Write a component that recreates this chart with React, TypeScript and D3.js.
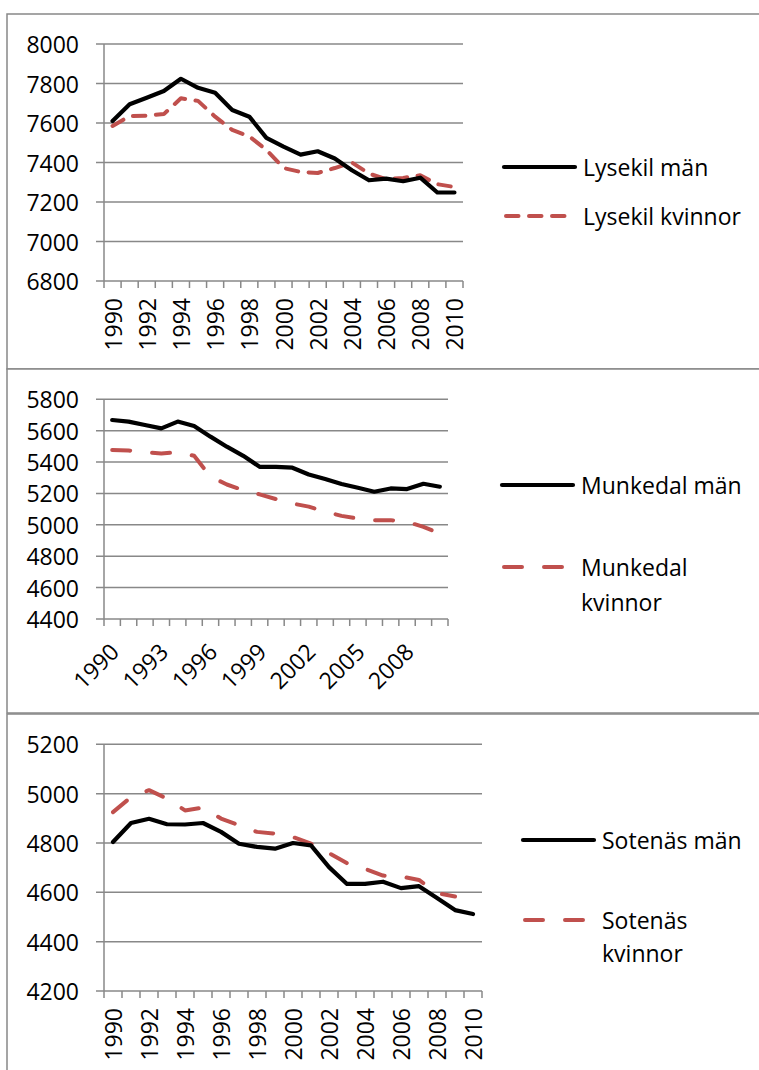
import React from "react";
import * as d3 from "d3";

const years = ["1990","1991","1992","1993","1994","1995","1996","1997","1998","1999","2000","2001","2002","2003","2004","2005","2006","2007","2008","2009","2010"];

const lysekilMan = [7610,7695,7728,7762,7824,7778,7753,7666,7632,7525,7480,7440,7457,7420,7361,7310,7318,7305,7323,7248,7248];
const lysekilKvinnor = [7585,7635,7637,7645,7725,7712,7632,7565,7532,7464,7372,7352,7347,7372,7400,7344,7315,7322,7335,7290,7276];

const munkedalMan = [5668,5658,5636,5615,5658,5630,5562,5498,5440,5370,5370,5364,5321,5292,5260,5236,5211,5232,5228,5262,5243];
const munkedalKvinnor = [5477,5474,5462,5455,5462,5440,5307,5257,5221,5194,5164,5136,5116,5084,5057,5040,5030,5030,5019,4987,4945];

const sotenasMan = [4804,4881,4898,4876,4875,4881,4845,4797,4784,4777,4800,4790,4702,4634,4634,4643,4617,4625,4577,4528,4512];
const sotenasKvinnor: (number | null)[] = [4925,4986,5014,4980,4932,4943,4899,4872,4845,4838,4824,4797,4759,4718,4695,4668,4664,4650,4597,4583,null];

const lysekilTicks = [6800,7000,7200,7400,7600,7800,8000];
const munkedalTicks = [4400,4600,4800,5000,5200,5400,5600,5800];
const sotenasTicks = [4200,4400,4600,4800,5000,5200];

const lysekilLegend = ["Lysekil män", "Lysekil kvinnor"];
const munkedalLegend = ["Munkedal män", "Munkedal", "kvinnor"];
const sotenasLegend = ["Sotenäs män", "Sotenäs", "kvinnor"];

const FONT = "'Open Sans', 'Noto Sans', sans-serif";
const FS = 23;
const GRAY = "#888888";
const RED = "#C0504D";

type PanelProps = {
  top: number; bottom: number;
  x0: number; x1: number; y0: number; y1: number;
  ticks: number[]; men: (number|null)[]; women: (number|null)[];
  every: number; rot: number; dash: string;
  legend: string[]; lg: { x: number; y1: number; y2: number; y3?: number; dashLen: number };
};

function Panel(p: PanelProps) {
  const x = d3.scaleBand<string>().domain(years).range([p.x0, p.x1]).padding(0);
  const y = d3.scaleLinear().domain([p.ticks[0], p.ticks[p.ticks.length - 1]]).range([p.y1, p.y0]);
  const cx = (i: number) => (x(years[i]) as number) + x.bandwidth() / 2;
  const line = d3.line<number | null>()
    .defined((d) => d !== null)
    .x((_, i) => cx(i))
    .y((d) => y(d as number));
  const boundaries = years.map((yr) => x(yr) as number).concat([p.x1]);
  const lx = p.lg.x;
  return (
    <g>
      <rect x={7} y={p.top} width={800} height={p.bottom - p.top} fill="white" stroke={GRAY} strokeWidth={1.5} />
      {p.ticks.map((t) => (
        <g key={t}>
          <line x1={p.x0 - 8} x2={p.x1} y1={y(t)} y2={y(t)} stroke={GRAY} strokeWidth={1.5} />
          <text x={p.x0 - 25} y={y(t)} textAnchor="end" dominantBaseline="central" fontSize={FS} fontFamily={FONT} fill="#000">{t}</text>
        </g>
      ))}
      <line x1={p.x0} x2={p.x0} y1={p.y0} y2={p.y1} stroke={GRAY} strokeWidth={1.5} />
      {boundaries.map((b, i) => (
        <line key={i} x1={b} x2={b} y1={p.y1} y2={p.y1 + 7} stroke={GRAY} strokeWidth={1.5} />
      ))}
      {years.map((yr, i) => i % p.every === 0 ? (
        p.rot === -90 ? (
          <text key={yr} transform={`translate(${cx(i)},${p.y1 + 17}) rotate(-90)`} textAnchor="end" dominantBaseline="central" fontSize={FS} fontFamily={FONT} fill="#000">{yr}</text>
        ) : (
          <text key={yr} transform={`translate(${cx(i) + 2},${p.y1 + 28}) rotate(-45)`} textAnchor="end" dominantBaseline="central" fontSize={FS} fontFamily={FONT} fill="#000">{yr}</text>
        )
      ) : null)}
      <path d={line(p.women) || ""} fill="none" stroke={RED} strokeWidth={4} strokeDasharray={p.dash} strokeLinecap="round" strokeLinejoin="round" />
      <path d={line(p.men) || ""} fill="none" stroke="#000" strokeWidth={4.2} strokeLinecap="round" strokeLinejoin="round" />
      <line x1={lx} x2={lx + 71} y1={p.lg.y1} y2={p.lg.y1} stroke="#000" strokeWidth={4.2} strokeLinecap="round" />
      <text x={lx + 79} y={p.lg.y1} dominantBaseline="central" fontSize={FS} fontFamily={FONT} fill="#000">{p.legend[0]}</text>
      <line x1={lx + 2} x2={lx + 2 + p.lg.dashLen} y1={p.lg.y2} y2={p.lg.y2} stroke={RED} strokeWidth={4} strokeDasharray={p.dash} strokeLinecap="round" />
      <text x={lx + 79} y={p.lg.y2} dominantBaseline="central" fontSize={FS} fontFamily={FONT} fill="#000">{p.legend[1]}</text>
      {p.legend[2] && p.lg.y3 !== undefined ? (
        <text x={lx + 79} y={p.lg.y3} dominantBaseline="central" fontSize={FS} fontFamily={FONT} fill="#000">{p.legend[2]}</text>
      ) : null}
    </g>
  );
}

export default function App() {
  return (
    <svg width={759} height={1070} style={{ position: "absolute", left: 0, top: 0, background: "white" }}>
      <Panel top={14} bottom={369} x0={104} x1={463} y0={44} y1={281} ticks={lysekilTicks}
        men={lysekilMan} women={lysekilKvinnor} every={2} rot={-90} dash="12.5 10.5"
        legend={lysekilLegend} lg={{ x: 504, y1: 167, y2: 216, dashLen: 60 }} />
      <Panel top={369} bottom={713} x0={104} x1={448} y0={399.3} y1={619} ticks={munkedalTicks}
        men={munkedalMan} women={munkedalKvinnor} every={3} rot={-45} dash="18 22"
        legend={munkedalLegend} lg={{ x: 502, y1: 485, y2: 567, y3: 602, dashLen: 60 }} />
      <Panel top={714} bottom={1080} x0={104} x1={482} y0={744.3} y1={991} ticks={sotenasTicks}
        men={sotenasMan} women={sotenasKvinnor} every={2} rot={-90} dash="18 22"
        legend={sotenasLegend} lg={{ x: 523, y1: 840, y2: 920, y3: 953, dashLen: 60 }} />
    </svg>
  );
}
